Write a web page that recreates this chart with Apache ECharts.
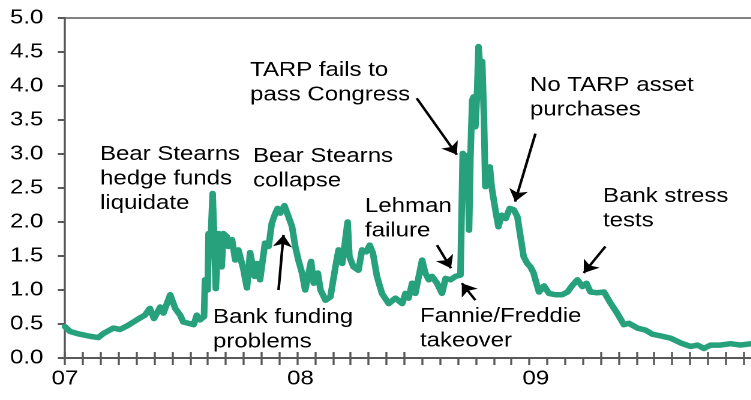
<!DOCTYPE html>
<html><head><meta charset="utf-8">
<script src="https://cdn.jsdelivr.net/npm/echarts@6/dist/echarts.min.js"></script>
<style>
html,body{margin:0;padding:0;overflow:hidden;background:#fff}
#wrap{width:751px;height:400px;overflow:hidden}
#chart{width:626px;height:400px;transform:scaleX(1.2);transform-origin:0 0}
</style>
</head><body><div id="wrap"><div id="chart"></div></div>
<script>
// x values: weeks since 1 Jan 2007
const weeks = [
  0,1.1,3.3,5.5,7.4,8.5,10.7,12.2,13.7,15.9,
  17.7,18.8,19.7,21.1,21.8,23.3,24.4,25.5,26.2,28.5,
  29.2,29.9,30.8,31.0,31.6,31.8,32.2,32.7,33.1,33.4,
  34.0,34.7,35.1,35.9,36.2,37.0,37.7,38.4,39.5,40.3,
  41.0,42.0,42.5,43.2,44.3,45.1,45.8,46.6,47.1,47.7,
  48.6,49.5,50.3,51.0,51.7,52.5,53.2,54.5,55.1,56.0,
  56.6,57.7,58.8,59.9,60.6,61.4,62.1,62.6,63.0,63.9,
  65.0,65.8,66.7,67.5,68.2,69.1,70.2,71.7,73.2,74.7,
  75.4,76.1,76.9,77.6,79.1,79.8,80.6,81.3,82.4,83.5,
  84.3,85.4,86.5,87.6,88.1,88.7,89.2,89.5,89.8,90.2,
  90.5,90.9,91.3,91.6,92.0,92.4,92.8,93.1,93.5,94.1,
  94.5,95.2,96.0,96.7,97.6,98.5,99.4,100.2,100.9,101.6,
  102.4,103.1,103.8,104.2,105.0,106.1,107.2,108.7,110.1,111.3,
  112.4,113.5,114.6,115.5,116.4,117.9,119.4,120.9,122.3,123.8,
  124.9,126.8,128.6,130.1,132.3,134.2,136.4,138.6,140.1,141.5,
  143.0,145.2,147.4,149.6,152.0
];
const values = [
  0.46,0.39,0.35,0.32,0.30,0.36,0.44,0.42,0.47,0.56,
  0.63,0.73,0.58,0.75,0.66,0.93,0.73,0.63,0.53,0.49,
  0.63,0.56,0.61,1.15,1.00,1.83,1.59,2.42,1.64,1.02,
  1.83,1.34,1.83,1.78,1.64,1.74,1.44,1.59,1.31,1.03,
  1.55,1.20,1.39,1.15,1.69,1.64,1.98,2.13,2.20,2.13,
  2.24,2.08,1.93,1.64,1.44,1.25,1.00,1.42,1.10,1.25,
  1.00,0.85,0.90,1.34,1.59,1.39,1.74,2.00,1.49,1.34,
  1.29,1.59,1.56,1.66,1.54,1.20,0.95,0.80,0.88,0.80,
  0.95,0.88,1.10,0.95,1.44,1.25,1.15,1.20,1.10,0.95,
  1.17,1.15,1.20,1.22,3.01,2.92,2.98,1.88,2.95,3.79,
  3.84,3.40,3.94,4.58,4.19,4.36,3.55,2.52,2.72,2.81,
  2.52,2.23,1.93,2.10,2.05,2.20,2.18,2.08,1.78,1.49,
  1.39,1.34,1.25,1.15,0.97,1.06,0.95,0.93,0.93,0.97,
  1.07,1.15,1.05,1.10,0.97,0.96,0.97,0.80,0.66,0.49,
  0.51,0.44,0.41,0.35,0.32,0.29,0.22,0.17,0.19,0.14,
  0.19,0.19,0.21,0.19,0.21
];
const yearWeeks = [0, 52.14, 104.29];
const yearLabels = ['07', '08', '09'];

const annotationTexts = [
  'Bear Stearns\nhedge funds\nliquidate',
  'Bear Stearns\ncollapse',
  'TARP fails to\npass Congress',
  'No TARP asset\npurchases',
  'Lehman\nfailure',
  'Bank stress\ntests',
  'Bank funding\nproblems',
  'Fannie/Freddie\ntakeover'
];

// ---- layout (not data) ----
const SX = 1.2;               // horizontal stretch of the original picture
const tickStep = 3.955;       // weeks between minor ticks
const tickCount = 39;
const innerTickIdx = [];
for (let k = 0; k <= 19; k++) innerTickIdx.push(k);
for (let k = 30; k < tickCount; k++) innerTickIdx.push(k);
const allTicks = [];
for (let k = 0; k < tickCount; k++) allTicks.push(+(k * tickStep).toFixed(3));
const innerTicks = innerTickIdx.map(k => allTicks[k]);

// annotation text positions in reference pixels [left, top]
const textPos = [[100,142],[253,144],[250,58],[530,73],[365,194],[603,184],[213,305],[420,304]];
// arrows [fromWeek, fromVal, toWeek, toVal]
const arrows = [
  [47.3,1.00,48.4,1.81],
  [77.9,3.82,86.8,2.99],
  [82.4,1.66,85.5,1.32],
  [90.9,0.85,87.9,1.10],
  [104.2,3.30,99.7,2.30],
  [119.7,1.64,114.9,1.25]
];

const FONT = '"Liberation Sans", Arial, Helvetica, sans-serif';
const AXIS = '#595959';

const chart = echarts.init(document.getElementById('chart'), null, {devicePixelRatio: 2});
const option = {
  animation: false,
  grid: {left: 65 / SX, right: 0, top: 18, bottom: 42, containLabel: false},
  xAxis: [
    {
      type: 'value', min: 0, max: 152, position: 'bottom',
      splitLine: {show: false},
      axisLine: {show: true, onZero: false, lineStyle: {color: AXIS, width: 2}},
      axisTick: {show: true, inside: false, length: 7, customValues: allTicks, lineStyle: {color: AXIS, width: 1.7}},
      axisLabel: {
        show: true, customValues: yearWeeks, margin: 11,
        fontFamily: FONT, fontSize: 20, color: '#000',
        formatter: v => { const i = yearWeeks.indexOf(v); return i >= 0 ? yearLabels[i] : ''; }
      }
    },
    {
      type: 'value', min: 0, max: 152, position: 'bottom',
      splitLine: {show: false},
      axisLine: {show: false},
      axisTick: {show: true, inside: true, length: 6, customValues: innerTicks, lineStyle: {color: AXIS, width: 1.7}},
      axisLabel: {show: false}
    },
    {
      type: 'value', min: 0, max: 152, position: 'top',
      splitLine: {show: false},
      axisLine: {show: true, onZero: false, lineStyle: {color: AXIS, width: 1.5}},
      axisTick: {show: false},
      axisLabel: {show: false}
    }
  ],
  yAxis: {
    type: 'value', min: 0, max: 5, interval: 0.5,
    splitLine: {show: false},
    axisLine: {show: true, lineStyle: {color: AXIS, width: 1.7}},
    axisTick: {show: true, length: 6, lineStyle: {color: AXIS, width: 2}},
    axisLabel: {
      margin: 18, fontFamily: FONT, fontSize: 20, color: '#000',
      formatter: v => v.toFixed(1)
    }
  },
  series: [{
    type: 'line',
    xAxisIndex: 0,
    data: weeks.map((w, i) => [w, values[i]]),
    showSymbol: false,
    lineStyle: {color: '#27a07c', width: 5.5, join: 'round', cap: 'round'},
    itemStyle: {color: '#27a07c'},
    silent: true,
    markLine: {
      silent: true,
      symbol: ['none', 'arrow'],
      symbolSize: 12,
      label: {show: false},
      itemStyle: {color: '#000'},
      lineStyle: {color: '#000', width: 2.2, type: 'solid'},
      data: arrows.map(a => [
        {coord: [a[0], a[1]], symbol: 'none'},
        {coord: [a[2], a[3]], symbol: 'arrow', symbolSize: 12, itemStyle: {color: '#000'}}
      ])
    }
  }],
  graphic: annotationTexts.map((t, i) => ({
    type: 'text',
    left: textPos[i][0] / SX,
    top: textPos[i][1],
    z: 100,
    silent: true,
    style: {text: t, font: '20px ' + FONT, fill: '#000', lineHeight: 24.5}
  }))
};
chart.setOption(option);
</script>
</body></html>
